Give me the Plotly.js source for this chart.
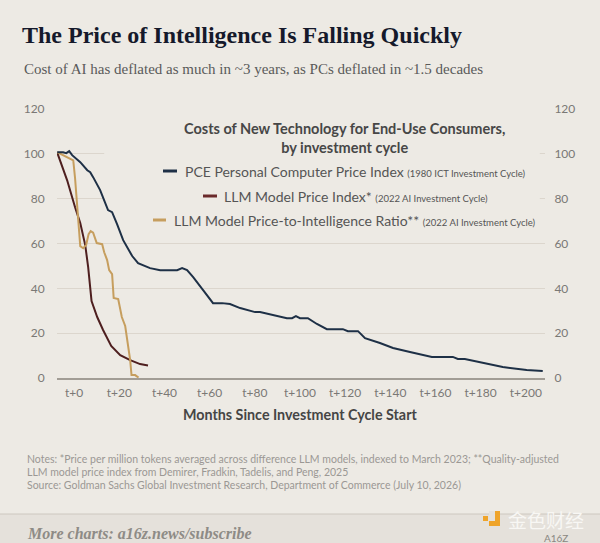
<!DOCTYPE html>
<html>
<head>
<meta charset="utf-8">
<script src="https://cdn.plot.ly/plotly-3.0.1.min.js"></script>
<style>
  html, body { margin: 0; padding: 0; background: #edeae4; }
  #chart { width: 600px; height: 543px; }
</style>
</head>
<body>
<div id="chart"></div>
<script>
// ---- Data (months since investment cycle start, index values) ----
const pceMonths = [-7.5,-4.9,-3.5,-2.2,-0.9,2.7,5.8,7.1,8.4,11.5,15.0,16.8,19.0,21.7,25.7,28.3,33.6,38.1,45.6,47.8,50.0,52.7,57.1,61.5,65.5,69.0,73.5,80.1,82.3,86.7,91.2,94.2,96.5,98.2,100.0,103.5,107.5,111.9,119.0,121.2,125.7,128.8,135.4,141.2,148.7,158.4,167.7,169.9,173.0,179.6,189.8,200.4,207.5];
const pceValues = [100.7,100.7,100.3,101.2,99.4,96.3,92.7,91.8,89.6,83.8,74.9,74.0,68.6,61.5,54.4,51.2,49.0,48.1,48.1,49.0,48.1,45.0,39.2,33.4,33.4,33.0,31.2,29.4,29.4,28.5,27.6,26.7,26.7,27.6,26.7,26.7,24.1,21.8,21.8,20.9,20.9,17.8,15.6,13.4,11.6,9.4,9.4,8.5,8.5,7.1,4.9,3.6,3.1];

const llmMonths = [-7.5,-3.1,0.4,2.7,4.9,6.2,7.7,10.2,12.8,16.4,20.4,24.8,29.2,32.7];
const llmValues = [100.5,88.2,76.2,69.1,59.3,49.5,34.3,27.2,21.4,14.3,10.2,8.0,6.2,5.6];

const pirMonths = [-7.5,-0.4,0.4,1.3,2.2,2.7,4.0,5.3,6.4,7.3,8.4,10.0,12.4,13.3,14.6,15.5,16.8,17.5,19.5,21.1,22.6,23.5,24.8,25.4,27.0,28.5];
const pirValues = [100.7,97.1,89.1,77.1,63.7,58.8,57.9,59.3,64.2,65.5,64.8,60.2,59.7,56.1,52.6,48.1,46.3,35.7,35.2,27.2,23.2,16.9,8.0,1.3,1.3,0.2];

const seriesNames = [
  "PCE Personal Computer Price Index",
  "LLM Model Price Index*",
  "LLM Model Price-to-Intelligence Ratio**"
];
const seriesCycles = [
  "(1980 ICT Investment Cycle)",
  "(2022 AI Investment Cycle)",
  "(2022 AI Investment Cycle)"
];

const xTickVals = [0,20,40,60,80,100,120,140,160,180,200];
const xTickText = ["t+0","t+20","t+40","t+60","t+80","t+100","t+120","t+140","t+160","t+180","t+200"];
const yTickVals = [0,20,40,60,80,100,120];

// ---- Styling ----
const BG = "#edeae4";
const colPCE = "#1e3046";
const colLLM = "#4e1f1f";
const colPIR = "#c69e5e";
const SANS = "Lato, 'Open Sans', sans-serif";
const SERIF = "'Liberation Serif', 'DejaVu Serif', serif";

// pixel -> paper helpers (plot area: x 57..545, y 109..378)
const L = 57, R = 545, T = 109, B = 378;
const PX = x => (x - L) / (R - L);
const PY = y => (B - y) / (B - T);

const traces = [
  { x: pceMonths, y: pceValues, type: "scatter", mode: "lines", name: seriesNames[0],
    line: { color: colPCE, width: 2 }, yaxis: "y2", showlegend: false, hoverinfo: "skip" },
  { x: llmMonths, y: llmValues, type: "scatter", mode: "lines", name: seriesNames[1],
    line: { color: colLLM, width: 2 }, showlegend: false, hoverinfo: "skip" },
  { x: pirMonths, y: pirValues, type: "scatter", mode: "lines", name: seriesNames[2],
    line: { color: colPIR, width: 2 }, showlegend: false, hoverinfo: "skip" }
];

const entryColors = [colPCE, "#6a2a2a", colPIR];
const entrySym = [[163,177,171],[203,217,196],[153,166,220]];
const entryTextX = [183, 222, 172];

const NOTE_FONT = { family: SANS, size: 10.5, color: "#9b9894" };

const annotations = [
  { xref: "paper", yref: "paper", x: PX(344), y: PY(137.5), xanchor: "center", yanchor: "middle",
    text: "<b>Costs of New Technology for End-Use Consumers,</b><br><b>by investment cycle</b>",
    showarrow: false, align: "center", font: { family: SANS, size: 14.5, color: "#474747" } },
  { xref: "paper", yref: "paper", x: PX(300), y: PY(414), xanchor: "center", yanchor: "middle",
    text: "<b>Months Since Investment Cycle Start</b>", showarrow: false,
    font: { family: SANS, size: 14.3, color: "#454545" } },
  { xref: "paper", yref: "paper", x: PX(22), y: PY(69), xanchor: "left", yanchor: "middle",
    text: "Cost of AI has deflated as much in ~3 years, as PCs deflated in ~1.5 decades", showarrow: false,
    font: { family: SERIF, size: 15, color: "#5a5a5a" } },
  { xref: "paper", yref: "paper", x: PX(25), y: PY(459), xanchor: "left", yanchor: "middle",
    text: "Notes: *Price per million tokens averaged across difference LLM models, indexed to March 2023; **Quality-adjusted",
    showarrow: false, font: NOTE_FONT },
  { xref: "paper", yref: "paper", x: PX(25), y: PY(472), xanchor: "left", yanchor: "middle",
    text: "LLM model price index from Demirer, Fradkin, Tadelis, and Peng, 2025",
    showarrow: false, font: NOTE_FONT },
  { xref: "paper", yref: "paper", x: PX(25), y: PY(485), xanchor: "left", yanchor: "middle",
    text: "Source: Goldman Sachs Global Investment Research, Department of Commerce (July 10, 2026)",
    showarrow: false, font: NOTE_FONT },
  { xref: "paper", yref: "paper", x: PX(25), y: PY(533), xanchor: "left", yanchor: "middle",
    text: "<b><i>More charts: a16z.news/subscribe</i></b>", showarrow: false,
    font: { family: SERIF, size: 16, color: "#8e8b86" } },
  { xref: "paper", yref: "paper", x: PX(506), y: PY(519), xanchor: "left", yanchor: "middle",
    text: "金色财经", showarrow: false,
    font: { family: "'Noto Sans CJK SC', sans-serif", size: 19, color: "#f8f7f4" } },
  { xref: "paper", yref: "paper", x: PX(556), y: PY(537.5), xanchor: "center", yanchor: "middle",
    text: "A16Z", showarrow: false,
    font: { family: SANS, size: 10, color: "#8a8782" } }
];

for (let i = 0; i < 3; i++) {
  annotations.push({
    xref: "paper", yref: "paper", x: PX(entryTextX[i]), y: PY(entrySym[i][2]), xanchor: "left", yanchor: "middle",
    text: seriesNames[i] + " <span style='font-size:9.5px'>" + seriesCycles[i] + "</span>",
    showarrow: false, font: { family: SANS, size: 14, color: "#555555" }
  });
}

const shapes = [
  // occlude gridlines behind legend block
  { type: "rect", xref: "x", yref: "y", x0: 13.3, x1: 206.2, y0: 70, y1: 110,
    fillcolor: BG, line: { width: 0 }, layer: "between" },
  // bottom strip
  { type: "rect", xref: "paper", yref: "paper", x0: PX(0), x1: PX(600), y0: PY(514), y1: PY(545),
    fillcolor: "#e5e1db", line: { width: 0 }, layer: "below" },
  { type: "line", xref: "paper", yref: "paper", x0: PX(0), x1: PX(600), y0: PY(514), y1: PY(514),
    line: { color: "#cdc8c0", width: 1 } },
  // watermark icon
  { type: "rect", xref: "paper", yref: "paper", x0: PX(489), x1: PX(500), y0: PY(526), y1: PY(511),
    fillcolor: "#efa42a", line: { width: 0 } },
  { type: "rect", xref: "paper", yref: "paper", x0: PX(489), x1: PX(495), y0: PY(521), y1: PY(511),
    fillcolor: "#e5e1db", line: { width: 0 } },
  { type: "rect", xref: "paper", yref: "paper", x0: PX(483), x1: PX(488), y0: PY(521), y1: PY(516),
    fillcolor: "#efa42a", line: { width: 0 } }
];
for (let i = 0; i < 3; i++) {
  shapes.push({ type: "line", xref: "paper", yref: "paper",
    x0: PX(entrySym[i][0]), x1: PX(entrySym[i][1]), y0: PY(entrySym[i][2]), y1: PY(entrySym[i][2]),
    line: { color: entryColors[i], width: 3 } });
}

const layout = {
  width: 600, height: 543,
  paper_bgcolor: BG, plot_bgcolor: BG,
  margin: { l: L, r: 600 - R, t: T, b: 543 - B, pad: 0 },
  showlegend: false,
  title: {
    text: "The Price of Intelligence Is Falling Quickly",
    x: 22 / 600, xanchor: "left", xref: "container",
    y: 1 - 35 / 543, yanchor: "middle", yref: "container",
    font: { family: SERIF, size: 24, color: "#15192b", weight: 700 }
  },
  xaxis: {
    range: [-7.6, 208.5], tickvals: xTickVals, ticktext: xTickText,
    showgrid: false, zeroline: false,
    showline: true, linecolor: "#a29d95", linewidth: 2,
    ticks: "outside", ticklen: 3, tickcolor: "rgba(0,0,0,0)",
    tickfont: { family: SANS, size: 12, color: "#7a7875" }
  },
  yaxis: {
    range: [0, 120], tickvals: yTickVals,
    showgrid: true, gridcolor: "#dcd6cd", gridwidth: 1,
    zeroline: false, showline: false,
    ticks: "outside", ticklen: 9, tickcolor: "rgba(0,0,0,0)",
    tickfont: { family: SANS, size: 12, color: "#7a7875" }
  },
  yaxis2: {
    range: [0, 120], tickvals: yTickVals, overlaying: "y", side: "right",
    showgrid: false, zeroline: false, showline: false,
    ticks: "outside", ticklen: 6, tickcolor: "rgba(0,0,0,0)",
    tickfont: { family: SANS, size: 12, color: "#7a7875" }
  },
  annotations: annotations,
  shapes: shapes
};

Plotly.newPlot("chart", traces, layout, { displayModeBar: false, staticPlot: true });
</script>
</body>
</html>
